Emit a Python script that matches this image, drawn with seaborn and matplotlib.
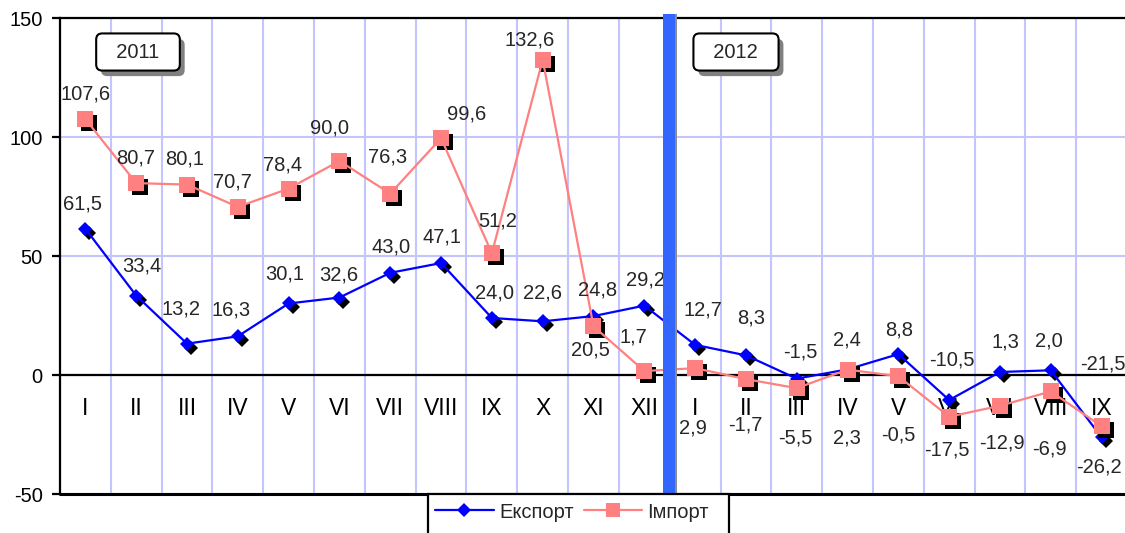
import numpy as np
import pandas as pd
import matplotlib
matplotlib.use('Agg')
import matplotlib.pyplot as plt
import matplotlib.transforms as mtransforms
import matplotlib.patheffects as pe
from matplotlib.lines import Line2D
from matplotlib.patches import Rectangle
import seaborn as sns

# Data
months = ['I', 'II', 'III', 'IV', 'V', 'VI', 'VII', 'VIII', 'IX', 'X', 'XI', 'XII',
          'I', 'II', 'III', 'IV', 'V', 'VI', 'VII', 'VIII', 'IX']
export_vals = [61.5, 33.4, 13.2, 16.3, 30.1, 32.6, 43.0, 47.1, 24.0, 22.6, 24.8, 29.2,
               12.7, 8.3, -1.5, 2.4, 8.8, -10.5, 1.3, 2.0, -26.2]
import_vals = [107.6, 80.7, 80.1, 70.7, 78.4, 90.0, 76.3, 99.6, 51.2, 132.6, 20.5, 1.7,
               2.9, -1.7, -5.5, 2.3, -0.5, -17.5, -12.9, -6.9, -21.5]
series_names = ['Експорт', 'Імпорт']
years = ['2011', '2012']
y_ticks = [-50, 0, 50, 100, 150]

# label offsets in pixels (dx, dy)
export_offsets = [(-3, 25), (6, 30), (-6, 35), (-7, 26), (-4, 29), (-1, 23), (1, 26), (1, 26),
                  (3, 25), (0, 28), (4, 26), (1, 26),
                  (8, 35), (5, 37), (4, 27), (-1, 29), (1, 24), (3, 40), (5, 30), (-2, 29), (-3, -30)]
import_offsets = [(0, 25), (-1, 25), (-2, 26), (-5, 25), (-6, 24), (-10, 33), (-3, 37), (26, 24),
                  (6, 32), (-13, 20), (-3, -24), (-11, 34),
                  (-2, -60), (-1, -46), (-1, -50), (-1, -68), (0, -59), (-2, -33), (2, -37),
                  (-1, -58), (1, 62)]

exp_color = '#0000FF'
imp_color = '#FF8080'
grid_color = '#C4C4FF'

sns.set_style('white')
plt.rcParams['font.family'] = ['Liberation Sans', 'DejaVu Sans']

W, H = 1125, 533
fig = plt.figure(figsize=(W / 100, H / 100), dpi=100)
ax = fig.add_axes([60 / W, 1 - 494 / H, 1067 / W, (494 - 18.3) / H])

df = pd.DataFrame({'pos': np.arange(len(months)), 'export': export_vals, 'import': import_vals})

# marker shadows
shadow = ax.transData + mtransforms.ScaledTranslation(4 / 100, -4 / 100, fig.dpi_scale_trans)
ax.plot(df['pos'], df['export'], ls='none', marker='D', ms=7.5, color='black', mew=0,
        transform=shadow, zorder=3)
sns.lineplot(data=df, x='pos', y='export', color=exp_color, marker='D', markersize=7.5,
             markeredgewidth=0, linewidth=1.6, ax=ax, zorder=4)
ax.plot(df['pos'], df['import'], ls='none', marker='s', ms=11.5, color='black', mew=0,
        transform=shadow, zorder=5)
sns.lineplot(data=df, x='pos', y='import', color=imp_color, marker='s', markersize=11.5,
             markeredgewidth=0, linewidth=1.6, ax=ax, zorder=6)

# data labels
for i, (v, (dx, dy)) in enumerate(zip(export_vals, export_offsets)):
    ax.annotate(f'{v:.1f}'.replace('.', ','), (i, v), xytext=(dx, dy), textcoords='offset pixels',
                ha='center', va='center', fontsize=14.5, zorder=7)
for i, (v, (dx, dy)) in enumerate(zip(import_vals, import_offsets)):
    ax.annotate(f'{v:.1f}'.replace('.', ','), (i, v), xytext=(dx, dy), textcoords='offset pixels',
                ha='center', va='center', fontsize=14.5, zorder=7)

# axes styling
ax.set_xlim(-0.5, len(months) - 0.5)
ax.set_ylim(-50, 150)
ax.set_yticks(y_ticks)
ax.set_yticklabels([str(t) for t in y_ticks])
ax.set_xticks(np.arange(len(months)))
ax.set_xticklabels(months)
ax.set_xticks(np.arange(-0.5, len(months), 1), minor=True)
ax.set_xlabel('')
ax.set_ylabel('')

ax.spines['bottom'].set_position(('data', 0))
for s in ['left', 'top', 'bottom']:
    ax.spines[s].set_color('black')
    ax.spines[s].set_linewidth(1.6)
ax.spines['right'].set_visible(False)
ax.axhline(-50, color='black', lw=2.2, clip_on=False, zorder=3)

ax.tick_params(axis='x', which='major', length=0, pad=16, labelsize=16.5, colors='black')
ax.tick_params(axis='x', which='minor', length=6, width=1.6, direction='out', color='black')
ax.tick_params(axis='y', length=6, width=1.6, direction='out', pad=6.5, labelsize=14.5,
               colors='black', left=True)
ax.set_axisbelow(True)
ax.grid(axis='y', which='major', color=grid_color, lw=1.5)
ax.grid(axis='x', which='minor', color=grid_color, lw=1.5)
ax.grid(axis='x', which='major', visible=False)

# separator between years
ax.axvspan(11.5 - 0.125, 11.5 + 0.105, ymin=0, ymax=1.01, color='#3366FF', lw=0,
           clip_on=False, zorder=8)
ax.axvspan(11.5 + 0.105, 11.5 + 0.145, ymin=0, ymax=1.01, color='#8C8C8C', lw=0,
           clip_on=False, zorder=8)

# year boxes
for xc, yr in zip([138, 736], years):
    t = fig.text(xc / W, 1 - 52 / H, '  ' + yr + '  ', ha='center', va='center', fontsize=14.5,
                 bbox=dict(boxstyle='round,pad=0.45,rounding_size=0.3', fc='white', ec='black', lw=1.5))
    t.get_bbox_patch().set_path_effects(
        [pe.withSimplePatchShadow(offset=(3.5, -4), shadow_rgbFace='#808080', alpha=1.0)])

# legend, frame runs past the bottom edge like the original
fig.patches.append(Rectangle((428 / W, 1 - 540 / H), 301 / W, 46 / H, transform=fig.transFigure,
                             fc='white', ec='black', lw=1.6, clip_on=False, zorder=9))
handles = [Line2D([], [], color=exp_color, marker='D', ms=7, mew=0, lw=1.6),
           Line2D([], [], color=imp_color, marker='s', ms=10.5, mew=0, lw=1.6)]
leg = fig.legend(handles, series_names, loc='center', bbox_to_anchor=(572 / W, 1 - 512 / H),
                 ncol=2, fontsize=14.5, frameon=False,
                 handlelength=2.9, handletextpad=0.26, columnspacing=0.5, borderpad=0,
                 borderaxespad=0)
leg.set_zorder(10)

fig.savefig('out.png', dpi=100)
plt.close()
